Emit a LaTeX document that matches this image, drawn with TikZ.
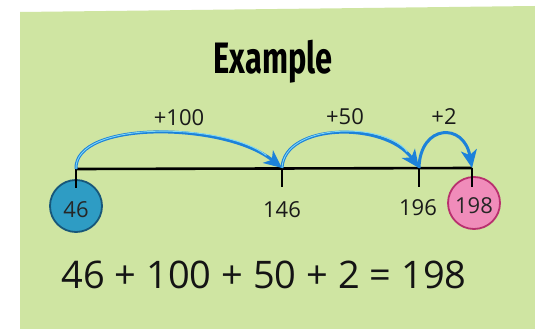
\documentclass[tikz,border=0pt]{standalone}
\usepackage{fontspec}
\usepackage{graphicx}
\setmainfont{Open Sans}
\newfontfamily\titlefont{Fira Sans}
\usetikzlibrary{arrows.meta}
\definecolor{panel}{HTML}{CFE5A2}
\definecolor{jump}{HTML}{1C82DA}
\definecolor{jumplight}{HTML}{7FD8F5}
\definecolor{startfill}{HTML}{2E9CC4}
\definecolor{startedge}{HTML}{17577A}
\definecolor{endfill}{HTML}{F08CBA}
\definecolor{endedge}{HTML}{B8306E}
\tikzset{
  numline/.style={line width=2.6pt, black},
  tick/.style={line width=2.4pt, black},
  jumparrow/.style={line width=3pt, jump, -{Stealth[length=18pt,width=16pt,inset=5pt]}},
  jumplabel/.style={font=\fontsize{22}{24}\selectfont, text=black!90, inner sep=0pt},
  ticklabel/.style={font=\fontsize{22}{24}\selectfont, text=black!90, inner sep=0pt},
  bubble/.style={circle, minimum size=52pt, inner sep=0pt, line width=1.8pt, font=\fontsize{22}{24}\selectfont, text=black!85},
}
\begin{document}
\begin{tikzpicture}[x=1pt,y=-1pt]
\useasboundingbox (0,0) rectangle (535,329);
\fill[white] (0,0) rectangle (535,329);
\fill[panel] (20,12) -- (535,6) -- (535,329) -- (20,329) -- cycle;
% title
\node[inner sep=0pt, font=\titlefont\bfseries\fontsize{44}{46}\selectfont] (title) at (273,62) {\scalebox{0.7}[1]{Example}};
% ticks
\coordinate (t0) at (76,169);
\coordinate (t1) at (282,168);
\coordinate (t2) at (419,168);
\coordinate (t3) at (472,168);
\coordinate (b0) at (76,188);
\coordinate (b1) at (282,187);
\coordinate (b2) at (419,187);
\coordinate (b3) at (472,187);
% circles
\node[bubble, fill=startfill, draw=startedge] (c46) at (76,206) {};
\node[bubble, fill=endfill, draw=endedge] (c198) at (474,203) {};
\draw[numline] (t0) -- (t3);
\draw[tick] (t0) -- (b0);
\draw[tick] (t1) -- (b1);
\draw[tick] (t2) -- (b2);
\draw[tick] (t3) -- (b3);
\node[bubble] at (76,210) {46};
\node[bubble] at (474,206) {198};
% tick labels
\node[ticklabel] (l146) at (282,210) {146};
\node[ticklabel] (l196) at (418,208) {196};
% jumps
\draw[jumparrow] (t0) .. controls (74,120) and (225,122) .. (t1);
\draw[jumparrow] (t1) .. controls (284,123) and (385,121) .. (t2);
\draw[jumparrow] (t2) .. controls (420,124) and (464,122) .. (t3);
\draw[jumplight, line width=0.9pt, shorten >=20pt] (t0) .. controls (74,120) and (225,122) .. (t1);
\draw[jumplight, line width=0.9pt, shorten >=20pt] (t1) .. controls (284,123) and (385,121) .. (t2);
% jump labels
\node[jumplabel] (j100) at (179,118) {+100};
\node[jumplabel] (j50) at (345,117) {+50};
\node[jumplabel] (j2) at (444,117) {+2};
% equation
\node[inner sep=0pt, font=\fontsize{38}{40}\selectfont, text=black!92] (eq) at (264,275) {46 + 100 + 50 + 2 = 198};
\end{tikzpicture}
\end{document}
